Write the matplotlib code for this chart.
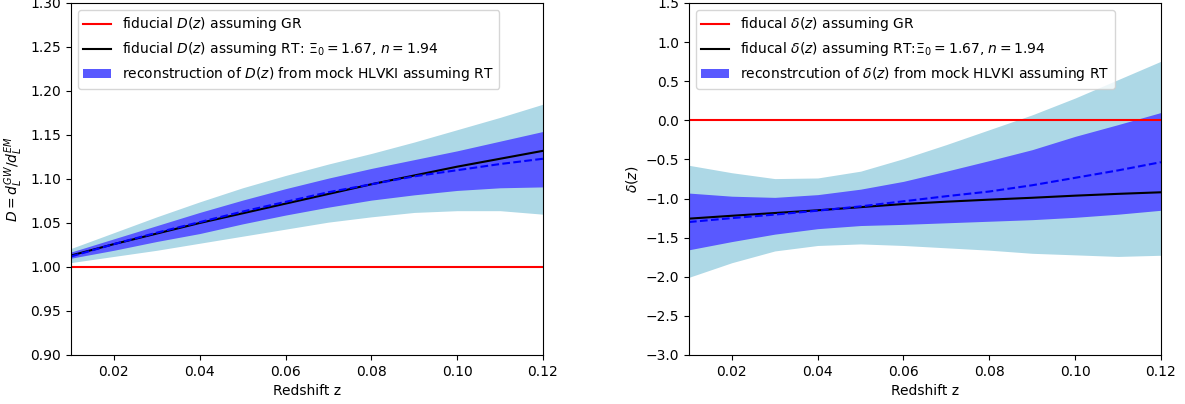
import numpy as np
import matplotlib
matplotlib.use("Agg")
import matplotlib.pyplot as plt

# redshift grid
z = [0.01, 0.02, 0.03, 0.04, 0.05, 0.06, 0.07, 0.08, 0.09, 0.10, 0.11, 0.12]

# left panel: D(z)
D_rt = [1.013, 1.026, 1.038, 1.050, 1.061, 1.072, 1.083, 1.094, 1.104, 1.114, 1.123, 1.132]
D_rec = [1.012, 1.026, 1.039, 1.051, 1.063, 1.074, 1.085, 1.094, 1.103, 1.110, 1.117, 1.123]
D_1s_hi = [1.017, 1.032, 1.047, 1.062, 1.076, 1.089, 1.101, 1.112, 1.122, 1.132, 1.143, 1.154]
D_1s_lo = [1.010, 1.019, 1.029, 1.038, 1.049, 1.059, 1.068, 1.076, 1.082, 1.087, 1.090, 1.091]
D_2s_hi = [1.021, 1.039, 1.057, 1.074, 1.090, 1.104, 1.117, 1.129, 1.142, 1.156, 1.170, 1.185]
D_2s_lo = [1.005, 1.012, 1.019, 1.027, 1.035, 1.043, 1.051, 1.057, 1.062, 1.064, 1.064, 1.060]

# right panel: delta(z)
d_rt = [-1.257, -1.22, -1.185, -1.15, -1.11, -1.07, -1.04, -1.014, -0.99, -0.963, -0.94, -0.92]
d_rec = [-1.30, -1.25, -1.205, -1.155, -1.10, -1.035, -0.97, -0.91, -0.83, -0.735, -0.64, -0.535]
d_1s_hi = [-0.93, -0.97, -0.985, -0.95, -0.88, -0.78, -0.65, -0.515, -0.375, -0.205, -0.055, 0.10]
d_1s_lo = [-1.655, -1.55, -1.455, -1.385, -1.345, -1.33, -1.31, -1.29, -1.27, -1.24, -1.20, -1.15]
d_2s_hi = [-0.575, -0.67, -0.745, -0.737, -0.65, -0.49, -0.31, -0.12, 0.07, 0.285, 0.52, 0.755]
d_2s_lo = [-2.007, -1.82, -1.67, -1.60, -1.58, -1.60, -1.63, -1.66, -1.70, -1.72, -1.74, -1.725]

lightband = '#add8e6'
band = '#5959ff'

fig = plt.figure(figsize=(11.85, 4.04), dpi=100)
ax1 = fig.add_axes([0.0599, 0.1213, 0.3983, 0.8713])
ax2 = fig.add_axes([0.5814, 0.1213, 0.3983, 0.8713])

# left
ax1.fill_between(z, D_2s_lo, D_2s_hi, color=lightband, lw=0)
ax1.fill_between(z, D_1s_lo, D_1s_hi, color=band, lw=0,
                 label='reconstruction of $D(z)$ from mock HLVKI assuming RT')
ax1.axhline(1.0, color='red', lw=1.5, label='fiducial $D(z)$ assuming GR')
ax1.plot(z, D_rt, color='black', lw=1.5,
         label=r'fiducial $D(z)$ assuming RT: $\Xi_0=1.67$, $n=1.94$')
ax1.plot(z, D_rec, color='blue', lw=1.5, ls='--')
ax1.set_xlim(0.01, 0.12)
ax1.set_ylim(0.90, 1.30)
ax1.set_xticks([0.02, 0.04, 0.06, 0.08, 0.10, 0.12])
ax1.set_yticks(np.arange(0.90, 1.301, 0.05))
ax1.set_xlabel('Redshift z')
ax1.set_ylabel(r'$D=d_L^{GW}/d_L^{EM}$')
h, l = ax1.get_legend_handles_labels()
ax1.legend([h[1], h[2], h[0]], [l[1], l[2], l[0]], loc='upper left')

# right
ax2.fill_between(z, d_2s_lo, d_2s_hi, color=lightband, lw=0)
ax2.fill_between(z, d_1s_lo, d_1s_hi, color=band, lw=0,
                 label=r'reconstrcution of $\delta(z)$ from mock HLVKI assuming RT')
ax2.axhline(0.0, color='red', lw=1.5, label=r'fiducal $\delta(z)$ assuming GR')
ax2.plot(z, d_rt, color='black', lw=1.5,
         label=r'fiducal $\delta(z)$ assuming RT:$\Xi_0=1.67$, $n=1.94$')
ax2.plot(z, d_rec, color='blue', lw=1.5, ls='--')
ax2.set_xlim(0.01, 0.12)
ax2.set_ylim(-3.0, 1.5)
ax2.set_xticks([0.02, 0.04, 0.06, 0.08, 0.10, 0.12])
ax2.set_yticks(np.arange(-3.0, 1.51, 0.5))
ax2.set_xlabel('Redshift z')
ax2.set_ylabel(r'$\delta(z)$')
h, l = ax2.get_legend_handles_labels()
ax2.legend([h[1], h[2], h[0]], [l[1], l[2], l[0]], loc='upper left')

fig.savefig('out.png', dpi=100)
